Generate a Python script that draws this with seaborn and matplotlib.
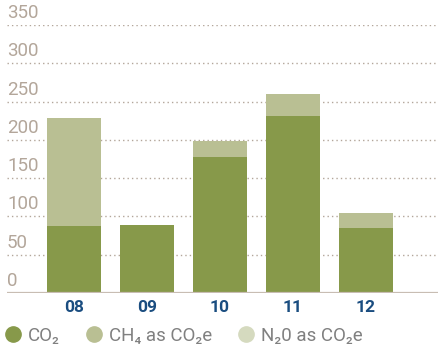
import matplotlib
matplotlib.use("Agg")
import matplotlib.pyplot as plt
from matplotlib.lines import Line2D
import matplotlib.transforms as mtransforms
import seaborn as sns
import pandas as pd

# Emissions by year (thousand tonnes CO2e)
years = ["08", "09", "10", "11", "12"]
co2 = [88, 89, 178, 231, 85]
ch4 = [140, 0, 20, 29, 20]
n2o = [0, 0, 0, 0, 0]
y_ticks = [0, 50, 100, 150, 200, 250, 300, 350]
series_labels = ["CO₂", "CH₄ as CO₂e", "N₂0 as CO₂e"]

c_co2 = "#87994a"
c_ch4 = "#b9bf93"
c_n2o = "#d5dabf"
tick_col = "#b3a69a"
year_col = "#1a4d80"

sns.set_theme(style="white")
plt.rcParams["font.family"] = ["Roboto", "DejaVu Sans"]

fig = plt.figure(figsize=(4.38, 3.49), dpi=100)
W, H = 438, 349
ax = fig.add_axes([7 / W, (H - 293) / H, 431 / W, (293 - 25) / H])

df = pd.DataFrame({"year": years, "co2": co2, "ch4": ch4, "n2o": n2o})
df["co2_ch4"] = df["co2"] + df["ch4"]
df["total"] = df["co2_ch4"] + df["n2o"]

# stacked bars: draw cumulative totals back to front
bar_kw = dict(x="year", width=0.75, saturation=1, ax=ax, zorder=3,
              linewidth=0, edgecolor="none")
sns.barplot(data=df, y="total", color=c_n2o, **bar_kw)
sns.barplot(data=df, y="co2_ch4", color=c_ch4, **bar_kw)
sns.barplot(data=df, y="co2", color=c_co2, **bar_kw)

ax.set_xlim(-0.918, 4.986)
ax.set_ylim(0, 350)
ax.set_xlabel("")
ax.set_ylabel("")

# dotted gridlines
for v in y_ticks[1:]:
    ax.axhline(v, color=tick_col, lw=1.0, ls=(0, (1, 2.2)), zorder=1)
ax.axhline(0, color="#c8bdb3", lw=1.6, zorder=4)

for s in ax.spines.values():
    s.set_visible(False)
ax.set_yticks([])
ax.tick_params(axis="x", length=0, pad=5)
for lab in ax.get_xticklabels():
    lab.set_color(year_col)
    lab.set_fontweight("bold")
    lab.set_fontsize(12.5)

# value labels sitting above each gridline
trans = mtransforms.blended_transform_factory(ax.transAxes, ax.transData)
for v in y_ticks:
    ax.text(0.0, v + 4, str(v), transform=trans, ha="left", va="bottom",
            color=tick_col, fontsize=13.5, fontweight="normal", clip_on=False)

handles = [Line2D([], [], ls="", marker="o", markersize=11, color=c)
           for c in (c_co2, c_ch4, c_n2o)]
leg = fig.legend(handles, series_labels, loc="center left",
                 bbox_to_anchor=(2 / W, (H - 336) / H), ncol=3, frameon=False,
                 handletextpad=0.2, columnspacing=1.2, handlelength=1.2,
                 borderpad=0, borderaxespad=0,
                 prop={"size": 13.5, "weight": "normal"})
for t in leg.get_texts():
    t.set_color("#808080")

fig.savefig("out.png", dpi=100)
